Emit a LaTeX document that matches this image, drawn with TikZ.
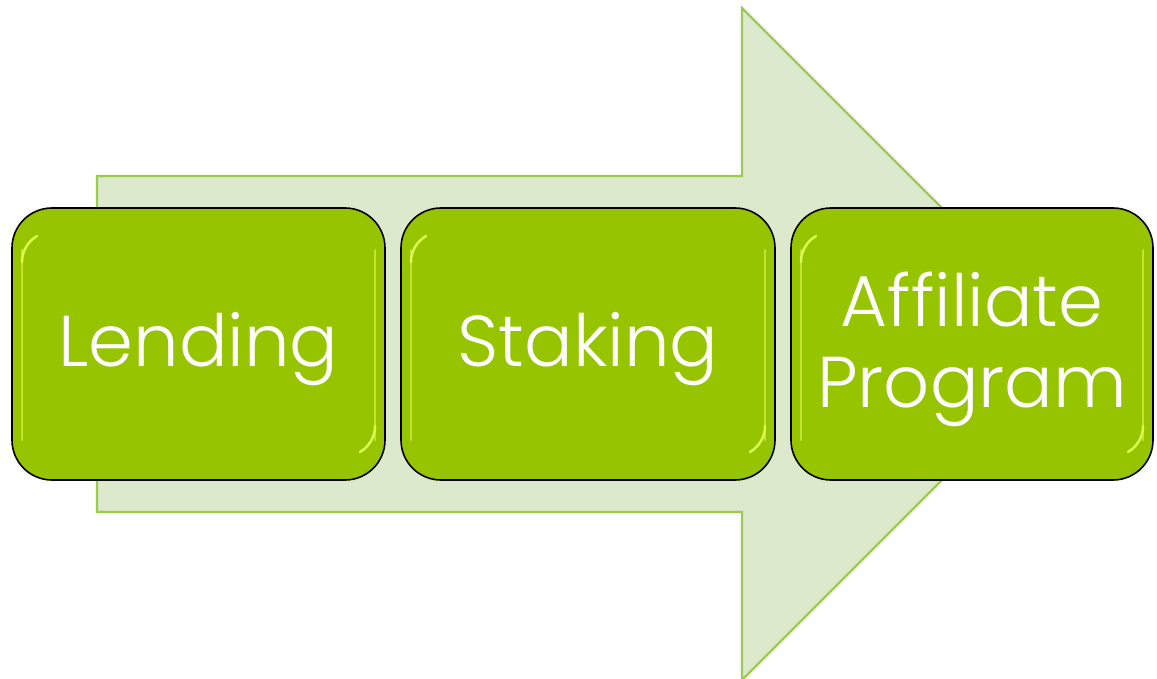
\documentclass[tikz,border=0pt]{standalone}
\usepackage{fontspec}
\setmainfont{Poppins Light}
\definecolor{arrowfill}{RGB}{220,233,204}
\definecolor{arrowline}{RGB}{155,203,80}
\definecolor{boxfill}{RGB}{150,197,0}
\definecolor{glosscol}{RGB}{226,255,90}
\tikzset{
  stepbox/.style={draw=black, line width=1.6pt, fill=boxfill, rounded corners=40pt},
  gloss/.style={draw=glosscol, line width=2.5pt, line cap=round, opacity=0.55},
  label/.style={text=white, font=\fontsize{72}{81}\selectfont, align=center, inner sep=0pt},
}
\begin{document}
\begin{tikzpicture}[x=1pt,y=-1pt]
  \useasboundingbox (0,0) rectangle (1157,679);
  % large background arrow
  \draw[fill=arrowfill, draw=arrowline, line width=2.2pt, line join=miter]
    (97,176) -- (742,176) -- (742,8) -- (1078,344) -- (742,680) -- (742,512) -- (97,512) -- cycle;
  % the three rounded steps
  \foreach \n/\l/\r in {a/12/385, b/401/775, c/791/1153} {
    \draw[stepbox] (\l,208) rectangle (\r,480);
    \draw[gloss] (\l+10,250) -- (\l+10,440);
    \draw[gloss] (\r-10,250) -- (\r-10,440);
    \draw[gloss, opacity=0.9] (\l+10,262) arc[start angle=180, end angle=120, radius=30pt];
    \draw[gloss, opacity=0.9] (\r-10,426) arc[start angle=0, end angle=-60, radius=30pt];
    \coordinate (\n) at ({(\l+\r)/2},349);
  }
  \node[label] (lending) at (a) {Lending};
  \node[label] (staking) at (b) {Staking};
  \node[label] (affiliate) at (c) {Affiliate\\Program};
\end{tikzpicture}
\end{document}
